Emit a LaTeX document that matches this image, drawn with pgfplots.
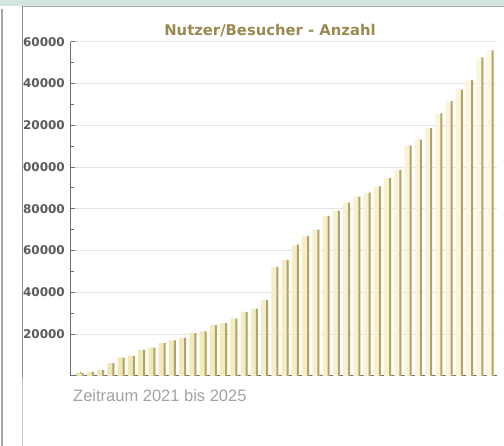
\documentclass[border=0pt]{standalone}
\usepackage{fontspec}
\usepackage{pgfplots}
\pgfplotsset{compat=1.18}
\usepackage{pgfplotstable}
\newfontfamily\djv{DejaVu Sans}
\newfontfamily\lib{Liberation Sans}
\definecolor{band}{HTML}{D3E4E1}
\definecolor{bandline}{HTML}{A4AEAC}
\definecolor{titlec}{HTML}{9A8A50}
\definecolor{capc}{HTML}{A3A3A3}
\definecolor{labc}{HTML}{5A5A5A}
\definecolor{axc}{HTML}{6E6E6E}
\definecolor{gridc}{HTML}{E4E4E4}
\definecolor{barl}{HTML}{EFE5B0}
\definecolor{barm}{HTML}{FBF7DE}
\definecolor{bard}{HTML}{B2A26B}
\pgfplotstableread{
x y
1 1500
2 2000
3 2800
4 6100
5 8800
6 9600
7 12500
8 13600
9 15700
10 17100
11 18200
12 20500
13 21400
14 24300
15 25300
16 27500
17 30700
18 32300
19 36300
20 52200
21 55600
22 62900
23 67100
24 70000
25 76600
26 79200
27 83000
28 85800
29 87800
30 90800
31 94700
32 98700
33 110300
34 113100
35 118700
36 125700
37 131600
38 137000
39 141700
40 152500
41 155800
}\datatable
\begin{document}
\begin{tikzpicture}[x=1pt,y=1pt]
\useasboundingbox (0,0) rectangle (504,446);
\fill[white] (0,0) rectangle (504,446);
\fill[band] (0,440) rectangle (504,446);
\draw[bandline, line width=1.5pt] (22,439.5) -- (504,439.5);
\draw[black!35, line width=2pt] (2,0) -- (2,437);
\draw[black!45, line width=1pt] (22,68) -- (22,439.5);
\draw[black!22, line width=1pt] (22,0) -- (22,68);
\begin{scope}
\clip (22.6,0) rectangle (504,438);
\begin{axis}[
  at={(71pt,70pt)}, anchor=south west,
  scale only axis, width=426pt, height=334.3pt,
  xmin=0.1, xmax=41.66, ymin=0, ymax=160000,
  axis lines=left, axis line style={-, draw=axc, line width=1pt},
  tick align=inside,
  xtick={1,...,41}, xticklabel style={text opacity=0},
  ytick={20000,40000,60000,80000,100000,120000,140000,160000},
  yticklabels={20000,40000,60000,80000,100000,120000,140000,160000},
  minor y tick num=1,
  major tick length=4pt, minor tick length=2.5pt,
  tick style={draw=axc, line width=0.9pt},
  scaled y ticks=false,
  ymajorgrids, grid style={draw=gridc, line width=1pt},
  yticklabel style={font=\djv\bfseries\fontsize{12}{12}\selectfont, text=labc, inner sep=0pt, xshift=-6pt},
]
\addplot[ybar, bar width=7pt, bar shift=0pt, draw=none, left color=barl, right color=barm] table[x=x,y=y] {\datatable};
\addplot[ybar, bar width=2.2pt, bar shift=2.4pt, draw=none, fill=bard] table[x=x,y=y] {\datatable};
\end{axis}
\end{scope}
\node[anchor=base, inner sep=0pt, text=titlec, font=\djv\bfseries\fontsize{14.8}{15}\selectfont] at (270,410.3) {Nutzer/Besucher - Anzahl};
\node[anchor=base west, inner sep=0pt, text=capc, font=\lib\fontsize{16.5}{17}\selectfont] at (73,44.3) {Zeitraum 2021 bis 2025};
\end{tikzpicture}
\end{document}
